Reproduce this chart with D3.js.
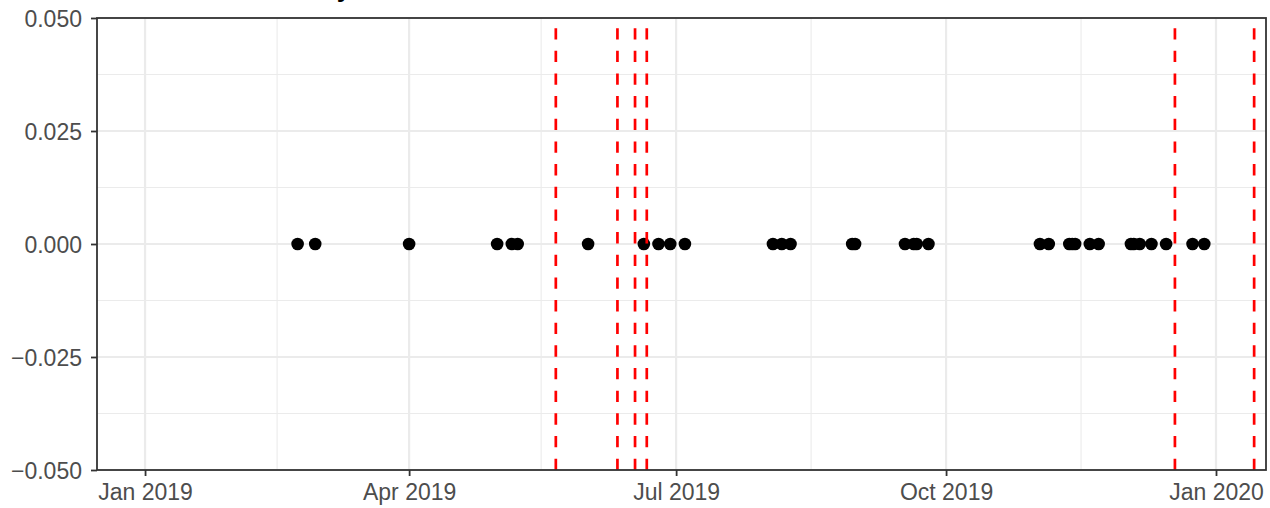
<!DOCTYPE html>
<html>
<head>
<meta charset="utf-8">
<script src="https://cdn.jsdelivr.net/npm/d3@7"></script>
<style>
  html, body { margin: 0; padding: 0; background: #ffffff; }
  svg { display: block; font-family: "Liberation Sans", Arial, sans-serif; }
</style>
</head>
<body>
<svg id="chart" width="1270" height="508"></svg>
<script>
// Dates on which an event was observed (all sit on the zero line)
const eventDates = [
  "2019-02-22", "2019-02-28", "2019-04-01", "2019-05-01", "2019-05-06", "2019-05-08",
  "2019-06-01", "2019-06-20", "2019-06-25", "2019-06-29", "2019-07-04",
  "2019-08-03", "2019-08-06", "2019-08-09", "2019-08-30", "2019-08-31",
  "2019-09-17", "2019-09-20", "2019-09-21", "2019-09-25",
  "2019-11-02", "2019-11-05", "2019-11-12", "2019-11-13", "2019-11-14",
  "2019-11-19", "2019-11-22", "2019-12-03", "2019-12-04", "2019-12-06",
  "2019-12-10", "2019-12-15", "2019-12-24", "2019-12-28"
];
const eventValues = eventDates.map(() => 0);

// Detected break dates, drawn as dashed vertical rules
const breakDates = ["2019-05-21", "2019-06-11", "2019-06-17", "2019-06-21", "2019-12-18", "2020-01-14"];

// Axis limits and tick labels
const xLimits = ["2018-12-15T15:00", "2020-01-18T01:00"];
const xTickDates = ["2019-01-01", "2019-04-01", "2019-07-01", "2019-10-01", "2020-01-01"];
const xTickLabels = ["Jan 2019", "Apr 2019", "Jul 2019", "Oct 2019", "Jan 2020"];
const xMinorDates = ["2019-02-15", "2019-05-16", "2019-08-16", "2019-11-16"];
const yLimits = [-0.05, 0.05];
const yTicks = [-0.05, -0.025, 0, 0.025, 0.05];
const yMinor = [-0.0375, -0.0125, 0.0125, 0.0375];
const titleText = "trend_break Monday";

const parse = s => new Date(s + (s.length === 10 ? "T00:00:00Z" : ":00Z"));

const panel = { left: 97, right: 1266, top: 18, bottom: 470 };
const svg = d3.select("#chart");

const x = d3.scaleUtc()
  .domain(xLimits.map(parse))
  .range([panel.left, panel.right]);
const y = d3.scaleLinear()
  .domain(yLimits)
  .range([panel.bottom, panel.top]);

// Title (sits mostly above the visible area)
svg.append("text")
  .attr("x", panel.left)
  .attr("y", -2.8)
  .attr("font-size", 26)
  .attr("font-weight", "bold")
  .attr("fill", "#000")
  .text(titleText);

const grid = svg.append("g");
// minor grid
grid.selectAll(".ymin").data(yMinor).join("line")
  .attr("x1", panel.left).attr("x2", panel.right)
  .attr("y1", d => y(d)).attr("y2", d => y(d))
  .attr("stroke", "#EBEBEB").attr("stroke-width", 1.1);
grid.selectAll(".xmin").data(xMinorDates.map(parse)).join("line")
  .attr("y1", panel.top).attr("y2", panel.bottom)
  .attr("x1", d => x(d)).attr("x2", d => x(d))
  .attr("stroke", "#EBEBEB").attr("stroke-width", 1.1);
// major grid
grid.selectAll(".ymaj").data(yTicks).join("line")
  .attr("x1", panel.left).attr("x2", panel.right)
  .attr("y1", d => y(d)).attr("y2", d => y(d))
  .attr("stroke", "#EBEBEB").attr("stroke-width", 2.2);
grid.selectAll(".xmaj").data(xTickDates.map(parse)).join("line")
  .attr("y1", panel.top).attr("y2", panel.bottom)
  .attr("x1", d => x(d)).attr("x2", d => x(d))
  .attr("stroke", "#EBEBEB").attr("stroke-width", 2.2);

// Points
svg.append("g").selectAll("circle")
  .data(eventDates.map((d, i) => ({ date: parse(d), value: eventValues[i] })))
  .join("circle")
  .attr("cx", d => x(d.date))
  .attr("cy", d => y(d.value))
  .attr("r", 6.3)
  .attr("fill", "#000");

// Break rules, dashed from the bottom edge upward
svg.append("g").selectAll("line")
  .data(breakDates.map(parse))
  .join("line")
  .attr("x1", d => x(d)).attr("x2", d => x(d))
  .attr("y1", y(yLimits[0])).attr("y2", y(yLimits[1]))
  .attr("stroke", "#FF0000")
  .attr("stroke-width", 2.7)
  .attr("stroke-dasharray", "11.33 11.33");

// Panel border
svg.append("rect")
  .attr("x", panel.left).attr("y", panel.top)
  .attr("width", panel.right - panel.left)
  .attr("height", panel.bottom - panel.top)
  .attr("fill", "none")
  .attr("stroke", "#333333")
  .attr("stroke-width", 1.8);

// Axes
const fmtY = v => d3.format(".3f")(v).replace("-", "\u2212");
const xAxis = d3.axisBottom(x)
  .tickValues(xTickDates.map(parse))
  .tickFormat((d, i) => xTickLabels[i])
  .tickSize(6).tickPadding(8);
const yAxis = d3.axisLeft(y)
  .tickValues(yTicks)
  .tickFormat(fmtY)
  .tickSize(6).tickPadding(9);

const gx = svg.append("g")
  .attr("transform", `translate(0,${panel.bottom})`)
  .call(xAxis);
const gy = svg.append("g")
  .attr("transform", `translate(${panel.left},0)`)
  .call(yAxis);

[gx, gy].forEach(g => {
  g.select(".domain").remove();
  g.selectAll(".tick line").attr("stroke", "#333333").attr("stroke-width", 1.8);
  g.selectAll(".tick text")
    .attr("fill", "#4D4D4D")
    .attr("font-size", 23)
    .attr("font-family", "'Liberation Sans', Arial, sans-serif");
});
gy.selectAll(".tick text").attr("dy", "0.35em");
gx.selectAll(".tick text").attr("dy", "0.71em");
</script>
</body>
</html>
